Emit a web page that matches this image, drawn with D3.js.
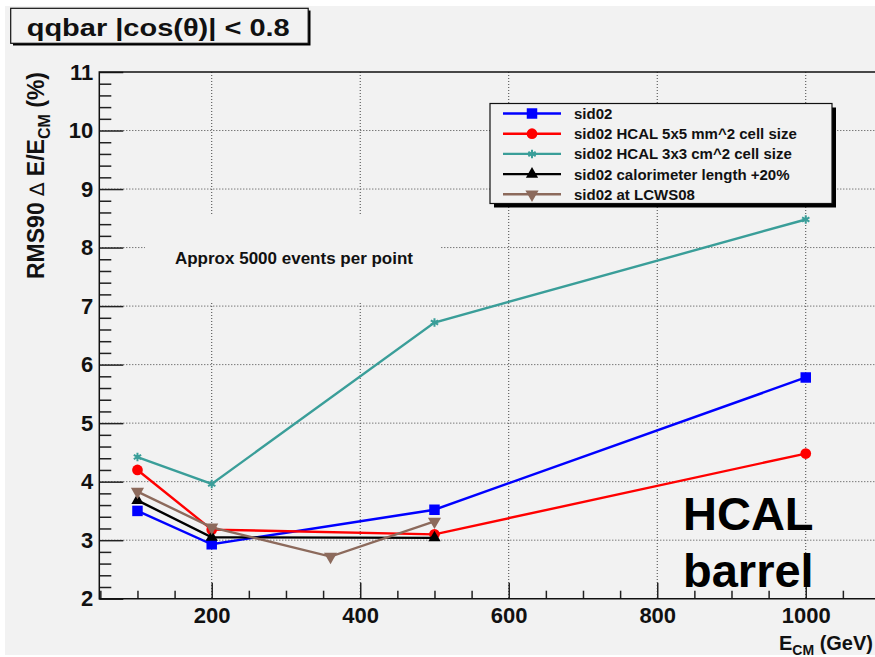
<!DOCTYPE html>
<html>

<head>
    <meta charset="utf-8">
    <style>
        body {
            margin: 0;
            background: #fff;
        }

        svg {
            display: block;
            font-family: 'Liberation Sans', Arial, Helvetica, sans-serif;
            font-weight: bold;
        }

        .grid line {
            stroke: #444;
            stroke-width: 1;
            stroke-dasharray: 1, 2;
        }

        .axis .domain {
            display: none;
        }

        .axis .tick line {
            stroke: #222;
            stroke-width: 1.5;
        }

        .axis .tick text {
            font-size: 22px;
            fill: #111;
        }

        .legend-label {
            font-size: 15px;
            fill: #111;
        }
    </style>
</head>

<body>
    <svg width="875" height="657"></svg>

    <script src="https://d3js.org/d3.v7.min.js"></script>
    <script>

        // series: E_CM (GeV) and RMS90 resolution (%)
        let seriesNames = [
            "sid02",
            "sid02 HCAL 5x5 mm^2 cell size",
            "sid02 HCAL 3x3 cm^2 cell size",
            "sid02 calorimeter length +20%",
            "sid02 at LCWS08"
        ]
        let seriesColors = ["#0000ff", "#ff0000", "#3a9e99", "#000000", "#8c6a5c"]
        let seriesMarkers = ["square", "circle", "asterisk", "triangle", "triangleDown"]

        let energySid02 = [100, 200, 500, 1000]
        let resSid02 = [3.50, 2.93, 3.52, 5.78]

        let energyHcal5 = [100, 200, 500, 1000]
        let resHcal5 = [4.20, 3.18, 3.10, 4.48]

        let energyHcal3 = [100, 200, 500, 1000]
        let resHcal3 = [4.42, 3.96, 6.72, 8.48]

        let energyLength = [100, 200, 500]
        let resLength = [3.68, 3.05, 3.04]

        let energyLcws = [100, 200, 360, 500]
        let resLcws = [3.83, 3.22, 2.72, 3.32]

        let allEnergies = [energySid02, energyHcal5, energyHcal3, energyLength, energyLcws]
        let allRes = [resSid02, resHcal5, resHcal3, resLength, resLcws]

        let xTicks = [200, 400, 600, 800, 1000]
        let yTicks = [2, 3, 4, 5, 6, 7, 8, 9, 10, 11]

        let bg = "#f2f2f2"

        let svg = d3.select("svg")

        // canvas
        svg.append("rect")
            .attr("x", 5)
            .attr("y", 6)
            .attr("width", 870)
            .attr("height", 649)
            .attr("fill", bg)

        let x = d3.scaleLinear()
            .domain([48.6, 1100])
            .range([99.3, 880])

        let y = d3.scaleLinear()
            .domain([2, 11])
            .range([598.7, 72])

        // dotted grid
        let grid = svg.append("g").attr("class", "grid")
        grid.selectAll(".vx")
            .data(xTicks)
            .join("line")
            .attr("x1", d => x(d))
            .attr("x2", d => x(d))
            .attr("y1", y(11))
            .attr("y2", y(2))
        grid.selectAll(".hy")
            .data(yTicks.filter(d => d > 2 && d < 11))
            .join("line")
            .attr("class", "hy")
            .attr("x1", x(48.6))
            .attr("x2", x(1100))
            .attr("y1", d => y(d))
            .attr("y2", d => y(d))

        // box behind the note hides the grid
        svg.append("rect")
            .attr("x", 145)
            .attr("y", 215)
            .attr("width", 296)
            .attr("height", 87)
            .attr("fill", bg)

        svg.append("text")
            .attr("x", 294)
            .attr("y", 264)
            .attr("text-anchor", "middle")
            .attr("font-size", 17)
            .attr("fill", "#111")
            .text("Approx 5000 events per point")

        // axes
        let minorY = d3.range(2, 11.001, 0.2).filter(d => Math.abs(d - Math.round(d)) > 0.01)
        svg.append("g")
            .attr("class", "axis")
            .attr("transform", `translate(${x(48.6)},0)`)
            .call(d3.axisLeft(y).tickValues(minorY).tickSize(-12).tickFormat(""))

        svg.append("g")
            .attr("class", "axis")
            .attr("transform", `translate(${x(48.6)},0)`)
            .call(d3.axisLeft(y).tickValues(yTicks).tickSize(-24).tickPadding(6).tickFormat(d3.format("d")))

        let minorX = d3.range(50, 1101, 50).filter(d => d % 200 != 0)
        svg.append("g")
            .attr("class", "axis")
            .attr("transform", `translate(0,${y(2)})`)
            .call(d3.axisBottom(x).tickValues(minorX).tickSize(-8).tickFormat(""))

        svg.append("g")
            .attr("class", "axis")
            .attr("transform", `translate(0,${y(2)})`)
            .call(d3.axisBottom(x).tickValues(xTicks).tickSize(-16).tickPadding(9).tickFormat(d3.format("d")))

        // frame
        svg.append("path")
            .attr("d", `M${x(1100)},${y(11)}H${x(48.6)}V${y(2)}H${x(1100)}`)
            .attr("fill", "none")
            .attr("stroke", "#111")
            .attr("stroke-width", 1.5)

        // marker shapes
        function marker(sel, kind, color) {
            let sym = {
                square: d3.symbol(d3.symbolSquare, 110),
                circle: d3.symbol(d3.symbolCircle, 90),
                asterisk: d3.symbol(d3.symbolAsterisk, 50),
                triangle: d3.symbol(d3.symbolTriangle, 65),
                triangleDown: d3.symbol(d3.symbolTriangle, 75)
            }[kind]
            sel.append("path")
                .attr("d", sym)
                .attr("transform", kind == "triangleDown" ? "rotate(180)" : null)
                .attr("fill", kind == "asterisk" ? "none" : color)
                .attr("stroke", kind == "asterisk" ? color : "none")
                .attr("stroke-width", 2)
        }

        let line = d3.line()
            .x(d => x(d[0]))
            .y(d => y(d[1]))

        // data
        seriesNames.forEach(function (name, i) {
            let pts = allEnergies[i].map((e, j) => [e, allRes[i][j]])
            let g = svg.append("g")
            g.append("path")
                .attr("d", line(pts))
                .attr("fill", "none")
                .attr("stroke", seriesColors[i])
                .attr("stroke-width", 2.4)
            g.selectAll("g")
                .data(pts)
                .join("g")
                .attr("transform", d => `translate(${x(d[0])},${y(d[1])})`)
                .each(function () { marker(d3.select(this), seriesMarkers[i], seriesColors[i]) })
        })

        // legend
        let lg = svg.append("g")
        lg.append("rect")
            .attr("x", 494)
            .attr("y", 107.5)
            .attr("width", 342)
            .attr("height", 100)
            .attr("fill", "#000")
        lg.append("rect")
            .attr("x", 490)
            .attr("y", 103.5)
            .attr("width", 342)
            .attr("height", 100)
            .attr("fill", bg)
            .attr("stroke", "#111")
            .attr("stroke-width", 1.2)

        seriesNames.forEach(function (name, i) {
            let ly = 113.5 + i * 20.2
            lg.append("line")
                .attr("x1", 503)
                .attr("x2", 561)
                .attr("y1", ly)
                .attr("y2", ly)
                .attr("stroke", seriesColors[i])
                .attr("stroke-width", 2.4)
            let m = lg.append("g").attr("transform", `translate(532,${ly})`)
            marker(m, seriesMarkers[i], seriesColors[i])
            lg.append("text")
                .attr("class", "legend-label")
                .attr("x", 574)
                .attr("y", ly + 5.5)
                .text(name)
        })

        // title box
        svg.append("rect")
            .attr("x", 13)
            .attr("y", 10.5)
            .attr("width", 297.5)
            .attr("height", 35)
            .attr("fill", "#000")
        svg.append("rect")
            .attr("x", 10.7)
            .attr("y", 8.3)
            .attr("width", 297.5)
            .attr("height", 35)
            .attr("fill", bg)
            .attr("stroke", "#111")
            .attr("stroke-width", 1.2)
        svg.append("text")
            .attr("x", 26.7)
            .attr("y", 36)
            .attr("font-size", 24)
            .attr("fill", "#111")
            .attr("textLength", 263)
            .attr("lengthAdjust", "spacingAndGlyphs")
            .text("qqbar |cos(θ)| < 0.8")

        // axis titles
        let yt = svg.append("text")
            .attr("transform", "translate(44,72) rotate(-90)")
            .attr("text-anchor", "end")
            .attr("font-size", 23)
            .attr("fill", "#111")
        yt.append("tspan").text("RMS90 ")
        yt.append("tspan")
            .attr("font-weight", "normal")
            .attr("font-family", "'DejaVu Sans', sans-serif")
            .attr("font-size", 20)
            .text("∆")
        yt.append("tspan").text(" E/E")
        yt.append("tspan").attr("font-size", 16).attr("dy", 6).text("CM")
        yt.append("tspan").attr("dy", -6).text(" (%)")

        let xt = svg.append("text")
            .attr("x", 873)
            .attr("y", 650)
            .attr("text-anchor", "end")
            .attr("font-size", 20)
            .attr("fill", "#111")
        xt.append("tspan").text("E")
        xt.append("tspan").attr("font-size", 14).attr("dy", 5).text("CM")
        xt.append("tspan").attr("dy", -5).text(" (GeV)")

        // big label
        svg.append("text")
            .attr("x", 683)
            .attr("y", 530)
            .attr("font-size", 47)
            .attr("fill", "#000")
            .text("HCAL")
        svg.append("text")
            .attr("x", 683)
            .attr("y", 587)
            .attr("font-size", 47)
            .attr("fill", "#000")
            .text("barrel")

    </script>
</body>

</html>
